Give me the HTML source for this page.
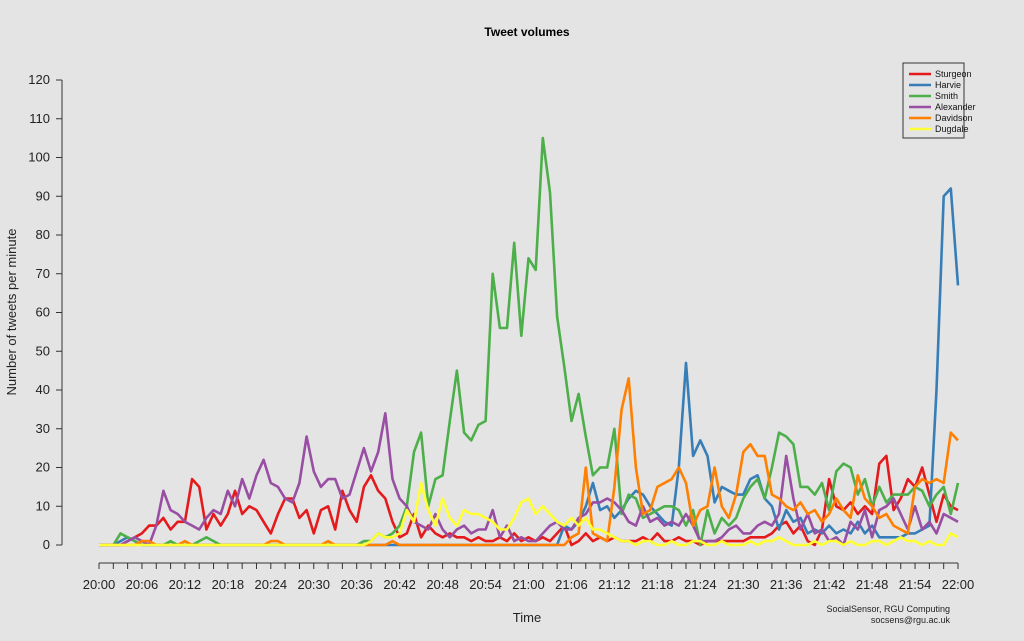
<!DOCTYPE html>
<html><head><meta charset="utf-8"><style>
body{margin:0;background:#e4e4e4;}
svg{display:block;font-family:"Liberation Sans",Arial,sans-serif;}
</style></head><body>
<svg id="c" width="1024" height="641" viewBox="0 0 1024 641">
<rect width="1024" height="641" fill="#e4e4e4"/>
<text x="527" y="36" text-anchor="middle" font-size="12" font-weight="bold">Tweet volumes</text>
<text transform="translate(16,312) rotate(-90)" text-anchor="middle" font-size="13" fill="#222">Number of tweets per minute</text>
<text x="527" y="622" text-anchor="middle" font-size="13" fill="#222">Time</text>
<text x="950" y="612" text-anchor="end" font-size="9" fill="#222">SocialSensor, RGU Computing</text>
<text x="950" y="623" text-anchor="end" font-size="9" fill="#222">socsens@rgu.ac.uk</text>
<g id="axes"></g>
<g id="series"></g>
<g id="legend"></g>
</svg>
<script>
const yTicks=[0,10,20,30,40,50,60,70,80,90,100,110,120];
const xLabels=["20:00","20:06","20:12","20:18","20:24","20:30","20:36","20:42","20:48","20:54","21:00","21:06","21:12","21:18","21:24","21:30","21:36","21:42","21:48","21:54","22:00"];
const seriesNames=["Sturgeon","Harvie","Smith","Alexander","Davidson","Dugdale"];
const sturgeon=[0,0,0,0,1,2,3,5,5,7,4,6,6,17,15,4,8,5,8,14,8,10,9,6,3,8,12,12,7,9,3,9,10,4,14,9,6,15,18,14,12,6,2,3,8,2,5,3,2,3,2,2,1,2,1,1,2,1,3,1,2,1,2,1,3,5,0,1,3,1,2,1,2,1,1,1,2,1,3,1,1,2,1,1,0,1,1,1,1,1,1,2,2,2,3,5,6,3,5,1,0,4,17,10,9,11,8,10,8,21,23,9,12,17,15,20,13,6,13,10,9];
const harvie=[0,0,0,1,2,1,0,0,0,0,0,0,0,0,0,0,0,0,0,0,0,0,0,0,0,0,0,0,0,0,0,0,0,0,0,0,0,0,0,0,0,0,0,0,0,0,0,0,0,0,0,0,0,0,0,0,0,0,0,0,0,0,0,0,0,5,4,6,10,16,9,10,7,9,12,14,13,10,8,6,5,20,47,23,27,23,11,15,14,13,13,17,18,12,10,4,9,6,7,3,4,3,5,3,4,3,6,3,5,2,2,2,2,3,3,4,5,40,90,92,67];
const smith=[0,0,0,3,2,1,0,0,0,0,1,0,0,0,1,2,1,0,0,0,0,0,0,0,0,0,0,0,0,0,0,0,0,0,0,0,0,1,1,3,2,3,5,10,24,29,10,17,18,32,45,29,27,31,32,70,56,56,78,54,74,71,105,91,59,46,32,39,28,18,20,20,30,8,13,12,7,8,9,10,10,9,5,9,0,9,3,7,5,7,12,15,17,12,20,29,28,26,15,15,13,16,9,19,21,20,13,17,10,15,11,13,13,13,15,14,10,13,15,8,16];
const alexander=[0,0,0,0,1,2,1,0,5,14,9,8,6,5,4,7,9,8,14,10,17,12,18,22,16,15,12,11,16,28,19,15,17,17,12,13,19,25,19,24,34,17,12,10,6,5,4,8,4,2,4,5,3,4,4,9,2,5,1,2,1,1,3,5,6,4,4,7,8,11,11,12,11,9,6,5,10,6,7,5,6,5,8,5,1,1,1,2,4,5,3,3,5,6,5,8,23,12,4,8,3,4,1,2,0,6,4,9,2,9,10,12,8,4,10,4,6,3,8,7,6];
const davidson=[0,0,0,0,0,0,1,1,0,0,0,0,1,0,0,0,0,0,0,0,0,0,0,0,1,1,0,0,0,0,0,0,1,0,0,0,0,0,0,0,0,1,0,0,0,0,0,0,0,0,0,0,0,0,0,0,0,0,0,0,0,0,0,0,0,0,2,3,20,3,2,1,15,35,43,20,8,9,15,16,17,20,16,5,9,10,20,10,7,13,24,26,23,23,13,12,10,9,11,8,9,6,8,12,9,7,18,12,10,7,8,5,4,3,15,17,16,17,16,29,27];
const dugdale=[0,0,0,0,0,0,0,0,0,0,0,0,0,0,0,0,0,0,0,0,0,0,0,0,0,0,0,0,0,0,0,0,0,0,0,0,0,0,1,3,2,2,3,9,6,16,9,5,12,7,5,9,8,8,7,6,4,4,7,11,12,8,10,8,6,5,7,5,7,4,4,3,2,1,1,0,1,1,0,0,1,0,0,1,1,0,0,1,0,0,0,1,0,1,1,2,1,0,0,0,1,0,1,1,0,1,0,0,1,1,0,1,2,1,1,0,1,0,0,3,2];
const seriesData=[sturgeon,harvie,smith,alexander,davidson,dugdale];
const colors=["#e41a1c","#377eb8","#4daf4a","#984ea3","#ff7f00","#ffff33"];
const NS="http://www.w3.org/2000/svg";
const X0=99,X1=958,Y0=545,Y1=80;
function xs(i){return X0+(X1-X0)*i/120;}
function ys(v){return Y0-(Y0-Y1)*v/120;}
function mk(t,a,p){const e=document.createElementNS(NS,t);for(const k in a)e.setAttribute(k,a[k]);p.appendChild(e);return e;}
const ax=document.getElementById('axes');
let yl=mk('line',{x1:62,x2:62,y1:ys(0),y2:ys(120),stroke:'#333'},ax);


yTicks.forEach(v=>{
 const t=mk('line',{x1:56,x2:62,y1:ys(v),y2:ys(v),stroke:'#333'},ax);
 
 
 const tx=mk('text',{x:50,y:ys(v)+4,'text-anchor':'end','font-size':13,fill:'#222'},ax);
 tx.textContent=v;
 
 
});
let xl=mk('line',{x1:X0,x2:X1,y1:563,y2:563,stroke:'#333'},ax);


for(let i=0;i<=120;i+=2){
 const t=mk('line',{x1:xs(i),x2:xs(i),y1:563,y2:569,stroke:'#333'},ax);
 
 
}
xLabels.forEach((l,k)=>{
 const tx=mk('text',{x:xs(k*6),y:589,'text-anchor':'middle','font-size':13,fill:'#222'},ax);
 tx.textContent=l;
 
 
});
const sg=document.getElementById('series');
seriesData.forEach((d,s)=>{
 const pts=d.map((v,i)=>xs(i).toFixed(1)+','+ys(v).toFixed(1)).join(' ');
 const p=mk('polyline',{points:pts,fill:'none',stroke:colors[s],'stroke-width':2.6,'stroke-linejoin':'round'},sg);
 
 
});
const lg=document.getElementById('legend');
const box=mk('rect',{x:903,y:63,width:61,height:75,fill:'#e4e4e4',stroke:'#333'},lg);


seriesNames.forEach((n,s)=>{
 const y=74+s*11;
 const g=mk('g',{},lg);
 
 
 mk('line',{x1:909,x2:931,y1:y,y2:y,stroke:colors[s],'stroke-width':2.6},g);
 const t=mk('text',{x:935,y:y+3,'font-size':9,fill:'#111'},g);
 t.textContent=n;
});
</script>
</body></html>
